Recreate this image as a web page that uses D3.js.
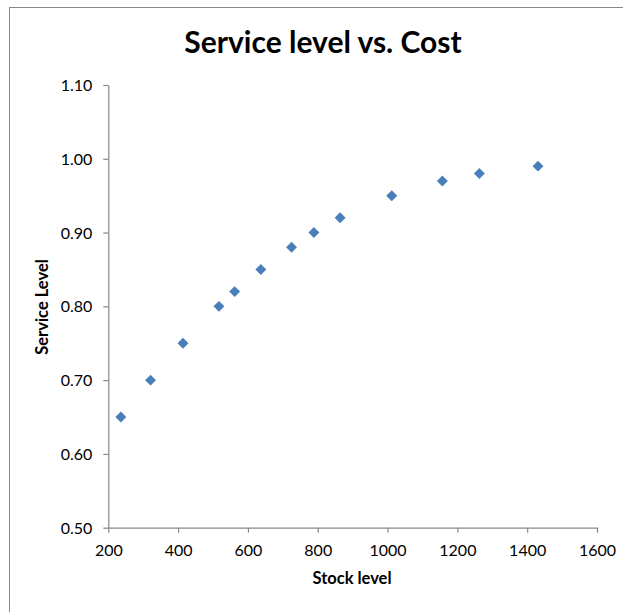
<!DOCTYPE html>
<html>
<head>
<meta charset="utf-8">
<script src="https://cdn.jsdelivr.net/npm/d3@7"></script>
<style>
  html, body { margin: 0; padding: 0; background: #fff; }
  svg { display: block; }
  text { font-family: Lato, "Open Sans", sans-serif; fill: #000; }
</style>
</head>
<body>
<svg id="chart" width="623" height="612"></svg>
<script>
const chartTitle = "Service level vs. Cost";
const xTitle = "Stock level";
const yTitle = "Service Level";
const stockLevels = [236, 321, 414, 517, 562, 637, 725, 789, 864, 1012, 1157, 1263, 1431];
const serviceLevels = [0.65, 0.70, 0.75, 0.80, 0.82, 0.85, 0.88, 0.90, 0.92, 0.95, 0.97, 0.98, 0.99];
const xTicks = [200, 400, 600, 800, 1000, 1200, 1400, 1600];
const yTicks = [0.50, 0.60, 0.70, 0.80, 0.90, 1.00, 1.10];

const svg = d3.select("#chart");
const plot = { left: 108.3, right: 597, top: 85, bottom: 527.7 };

// outer chart border (only left and top visible)
svg.append("rect")
  .attr("x", 9.5).attr("y", 7.5)
  .attr("width", 700).attr("height", 700)
  .attr("fill", "none").attr("stroke", "#878787").attr("stroke-width", 1);

const x = d3.scaleLinear().domain([200, 1600]).range([plot.left, plot.right]);
const y = d3.scaleLinear().domain([0.5, 1.1]).range([plot.bottom, plot.top]);

const xAxis = d3.axisBottom(x).tickValues(xTicks).tickSize(5).tickSizeOuter(0).tickPadding(12)
  .tickFormat(d3.format("d"));
const yAxis = d3.axisLeft(y).tickValues(yTicks).tickSize(5).tickSizeOuter(0).tickPadding(11)
  .tickFormat(d3.format(".2f"));

const gx = svg.append("g").attr("transform", `translate(0,${plot.bottom})`).call(xAxis);
const gy = svg.append("g").attr("transform", `translate(${plot.left},0)`).call(yAxis);
[gx, gy].forEach(g => {
  g.select(".domain").attr("stroke", "#878787").attr("stroke-width", 1.2);
  g.selectAll(".tick line").attr("stroke", "#878787").attr("stroke-width", 1.2);
  g.selectAll(".tick text").attr("font-size", 16).attr("fill", "#000")
    .style("font-family", "Lato, 'Open Sans', sans-serif");
});
gy.selectAll(".tick text").attr("dy", "0.35em");

// points (diamonds)
const diamond = d3.symbol().type(d3.symbolDiamond2).size(76);
svg.append("g").selectAll("path")
  .data(stockLevels.map((s, i) => [s, serviceLevels[i]]))
  .join("path")
  .attr("d", diamond)
  .attr("transform", d => `translate(${x(d[0])},${y(d[1])})`)
  .attr("fill", "#4a7ebb");

// titles
svg.append("text")
  .attr("x", 323).attr("y", 53)
  .attr("text-anchor", "middle")
  .attr("font-size", 30).attr("font-weight", "bold")
  .text(chartTitle);

svg.append("text")
  .attr("x", 352).attr("y", 584)
  .attr("text-anchor", "middle")
  .attr("font-size", 16.5).attr("font-weight", "bold")
  .text(xTitle);

svg.append("text")
  .attr("transform", "translate(48,307) rotate(-90)")
  .attr("text-anchor", "middle")
  .attr("font-size", 16.5).attr("font-weight", "bold")
  .text(yTitle);
</script>
</body>
</html>
